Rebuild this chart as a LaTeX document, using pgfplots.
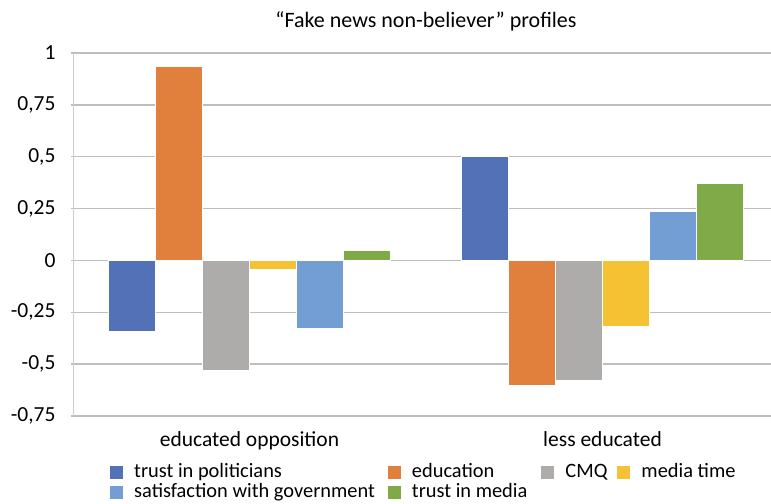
\documentclass[border=0pt]{standalone}
\usepackage{fontspec}
\setmainfont{Carlito}
\usepackage{pgfplots}
\pgfplotsset{compat=1.18}

\definecolor{cBlue}{RGB}{82,113,182}
\definecolor{cOrange}{RGB}{224,128,60}
\definecolor{cGray}{RGB}{174,172,170}
\definecolor{cYellow}{RGB}{245,194,51}
\definecolor{cLightBlue}{RGB}{114,158,211}
\definecolor{cGreen}{RGB}{128,170,72}
\definecolor{gridgray}{RGB}{190,190,190}
\definecolor{axisgray}{RGB}{205,205,205}

\newcommand\tf{\fontsize{21.5bp}{25bp}\selectfont}
\newcommand\lf{\fontsize{20.4bp}{24bp}\selectfont}
\newcommand\ttlf{\fontsize{22bp}{26bp}\selectfont}

\begin{document}
\begin{tikzpicture}
\useasboundingbox (0,0) rectangle (771bp,504bp);
\begin{axis}[
  at={(73bp,88bp)}, anchor=south west,
  scale only axis, width=706bp, height=363bp,
  xmin=-0.5, xmax=1.5, ymin=-0.75, ymax=1,
  ybar=0pt, bar width=47bp,
  xtick={0,1}, xticklabels={educated opposition, less educated},
  x tick style={draw=none},
  extra x ticks={0.5}, extra x tick labels={},
  extra x tick style={grid=none, tick style={draw=gridgray, line width=1bp}, major tick length=6bp},
  ytick={-0.75,-0.5,-0.25,0,0.25,0.5,0.75,1},
  yticklabels={{-0,75},{-0,5},{-0,25},0,{0,25},{0,5},{0,75},1},
  ymajorgrids, grid style={gridgray, line width=1.4bp},
  axis x line*=bottom, axis y line*=left,
  x axis line style={gridgray, line width=1.4bp, -},
  y axis line style={axisgray, line width=1bp, -},
  tick align=outside, major tick length=2bp,
  y tick style={gridgray, line width=1.4bp},
  tick label style={font=\tf},
  yticklabel style={xshift=-12bp},
  xticklabel style={yshift=-10bp},
  title={“Fake news non-believer” profiles},
  title style={font=\ttlf, yshift=12bp},
  every axis plot/.append style={draw=white, line width=1bp},
  legend columns=4,
  legend image code/.code={\fill[#1, draw=none] (0bp,-6.5bp) rectangle (13bp,6.5bp);},
  legend style={at={(axis description cs:0.0524,-0.128)}, anchor=north west,
    draw=none, fill=none, font=\lf, inner sep=0pt, row sep=0pt, column sep=0pt,
    nodes={inner sep=0pt, text height=15bp, text depth=5bp},
    /tikz/every odd column/.style={column sep=11bp},
    /tikz/column 2/.style={column sep=13bp},
    /tikz/column 4/.style={column sep=14bp},
    /tikz/column 6/.style={column sep=10bp}},
  legend cell align=left,
]
% x = 0: educated opposition, x = 1: less educated
\addplot[fill=cBlue]      coordinates {(0,-0.343) (1,0.503)};
\addplot[fill=cOrange]    coordinates {(0,0.936)  (1,-0.601)};
\addplot[fill=cGray]      coordinates {(0,-0.531) (1,-0.577)};
\addplot[fill=cYellow]    coordinates {(0,-0.045) (1,-0.319)};
\addplot[fill=cLightBlue] coordinates {(0,-0.326) (1,0.234)};
\addplot[fill=cGreen]     coordinates {(0,0.050)  (1,0.370)};
\legend{trust in politicians, education, CMQ, media time, satisfaction with government, trust in media}
\end{axis}
\end{tikzpicture}
\end{document}
